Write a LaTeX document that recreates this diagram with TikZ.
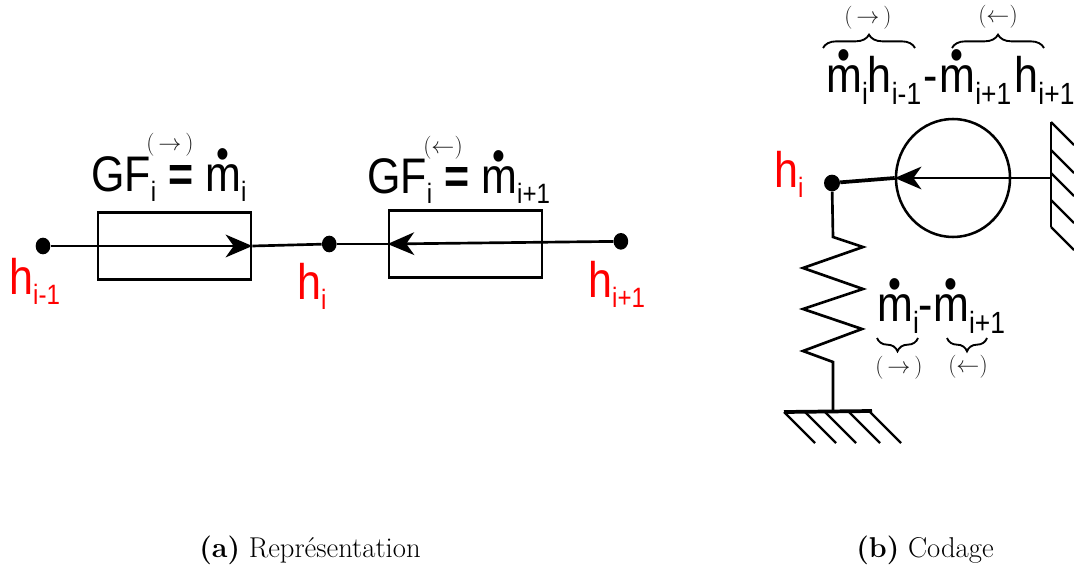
\documentclass[tikz,border=0pt]{standalone}
\usepackage{fontspec}
\usepackage{xcolor}
\usepackage{tikz}
\usetikzlibrary{arrows.meta,positioning,shapes.geometric,decorations.pathreplacing}
\newfontfamily\labelfont[FakeStretch=0.86]{Liberation Sans}
\definecolor{DeepRed}{HTML}{FF0000}
\definecolor{DeepGray}{HTML}{1A1A1A}
\newcommand{\lowtext}[1]{\raisebox{-7.5pt}{\fontsize{21}{21}\selectfont #1}}
\newcommand{\lowbig}[1]{\raisebox{-9pt}{\fontsize{23}{23}\selectfont #1}}
\newcommand{\mflow}{\setbox0\hbox{m}\rlap{\hbox to \wd0{\hss\raisebox{17.5pt}{\fontsize{32}{32}\selectfont\textbullet}\hss}}m}
\newcommand{\sense}[1]{$(#1)$}
\tikzset{
  dotnode/.style={ellipse,fill=black,inner sep=0pt,minimum width=11pt,minimum height=12.5pt},
  flowbox/.style={draw=black,line width=1.8pt,inner sep=0pt,minimum width=115pt,minimum height=50.5pt},
  flowcircle/.style={ellipse,draw=black,line width=1.9pt,inner sep=0pt,minimum width=85.5pt,minimum height=88.5pt},
  wire/.style={line width=2pt,draw=black},
  heavywire/.style={line width=2.8pt,draw=black},
  flow/.style={-{Stealth[length=20pt,width=17pt,inset=6pt]},line width=2pt,draw=black},
  hatch/.style={line width=1.7pt,draw=black},
  bigtext/.style={font=\labelfont\fontsize{37.5}{37.5}\selectfont,inner sep=0pt,anchor=base west},
  hlabel/.style={bigtext,text=DeepRed},
  sensetext/.style={font=\fontsize{16}{16}\selectfont,text=DeepGray,inner sep=0pt},
  captext/.style={font=\fontsize{21.5}{21.5}\selectfont,inner sep=0pt},
  curly/.style={decorate,decoration={brace,amplitude=10pt},line width=1.4pt,draw=black}
}
\begin{document}
\begin{tikzpicture}[x=0.75pt,y=-0.75pt]
  \useasboundingbox (0,0) rectangle (1074,566);

  \node[dotnode] (hprev) at (43,246) {};
  \node[flowbox,right=34.5pt of hprev] (boxa) {};
  \node[dotnode,right=52pt of boxa,yshift=1.5pt] (hcur) {};
  \node[flowbox,right=38pt of hcur] (boxb) {};
  \node[dotnode,right=52.5pt of boxb,yshift=2pt] (hnext) {};

  \draw[flow] (hprev) -- (boxa.east);
  \draw[wire] (boxa.east) -- (hcur);
  \draw[wire] (hcur) -- (boxb.west);
  \draw[flow] (hnext) -- (boxb.west);

  \node[bigtext] (gfa) at (91,192) {GF\lowtext{i} \textbf{=} \mflow\lowtext{i}};
  \node[bigtext] (gfb) at (367,194) {GF\lowtext{i} \textbf{=} \mflow\lowtext{i+1}};
  \node[sensetext] (sensegfa) at (170,145) {\sense{\,\rightarrow\,}};
  \node[sensetext] (sensegfb) at (443,148) {\sense{\leftarrow}};

  \node[hlabel] (lprev) at (9,295) {h\lowtext{i-1}};
  \node[hlabel] (lcur) at (297,300) {h\lowtext{i}};
  \node[hlabel] (lnext) at (588,298) {h\lowtext{i+1}};

  \node[captext] (capa) at (310,550) {\textbf{(a)} Représentation};

  \node[dotnode,minimum width=12pt] (hcurb) at (832,183) {};
  \node[flowcircle] (pump) at (953,178) {};
  \coordinate (wallb) at (1051,178);
  \draw[flow] (wallb) -- (pump.west);
  \draw[heavywire] (hcurb) -- (pump.west);

  \draw[hatch] (1051,122) -- (1051,227);
  \foreach \ya in {122,150,173,200,227}
    \draw[hatch] (1051,\ya) -- ++(23,23);

  \coordinate (springtop) at (833,237);
  \coordinate (groundtop) at (833,411);
  \draw[wire] (hcurb) -- (springtop) -- ++(30,10) -- ++(-60,21) -- ++(60,21)
    -- ++(-60,20) -- ++(59,20) -- ++(-59,22) -- ++(30,11) -- (groundtop);
  \draw[heavywire] (784,412) -- (872,411);
  \foreach \xa in {784,805,825,849,870}
    \draw[hatch] (\xa,412) -- ++(31,31);

  \node[hlabel] (lcurb) at (774,188) {h\lowtext{i}};
  \node[bigtext] (eqtop) at (826,93) {\mflow\lowbig{i}h\lowbig{i-1}\kern2pt-\kern1pt\mflow\lowbig{i+1}\kern2.5pt h\lowbig{i+1}};
  \node[bigtext] (eqlow) at (877,322) {\mflow\lowbig{i}-\mflow\lowbig{i+1}};

  \coordinate (bracea) at (823,48);
  \coordinate (braceb) at (915,48);
  \coordinate (bracec) at (952,48);
  \coordinate (braced) at (1044,48);
  \coordinate (bracee) at (877,338);
  \coordinate (bracef) at (918,338);
  \coordinate (braceg) at (947,338);
  \coordinate (braceh) at (987,338);
  \draw[curly] (bracea) -- (braceb);
  \draw[curly] (bracec) -- (braced);
  \draw[curly,decoration={mirror}] (bracee) -- (bracef);
  \draw[curly,decoration={mirror}] (braceg) -- (braceh);
  \node[sensetext] (sensea) at (868,18) {\sense{\,\rightarrow\,}};
  \node[sensetext] (senseb) at (998,17) {\sense{\leftarrow}};
  \node[sensetext] (sensec) at (899,368) {\sense{\,\rightarrow\,}};
  \node[sensetext] (sensed) at (968,367) {\sense{\leftarrow}};

  \node[captext] (capb) at (925,550) {\textbf{(b)} Codage};
\end{tikzpicture}
\end{document}
